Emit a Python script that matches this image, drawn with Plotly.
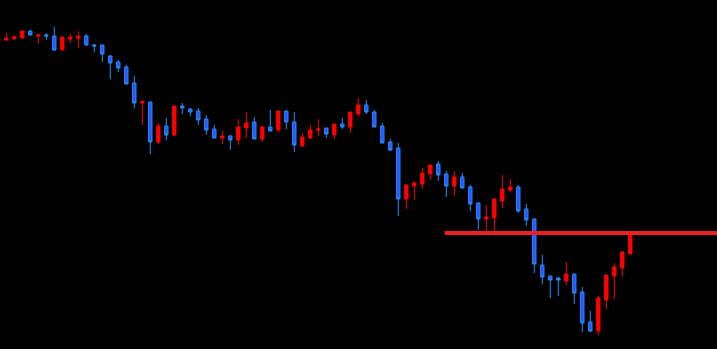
import plotly.graph_objects as go

# Bar index (one per candle); price values
bar_index = list(range(-1, 79))
open_ = [310, 310, 311, 312, 319, 314, 315, 314, 300, 311, 312, 314, 305, 305, 294, 288, 283, 267, 247, 248,
         208, 224, 215, 244, 241, 239, 231, 221, 212, 214, 210, 222, 228, 211, 223, 220, 239, 228, 204, 212,
         220, 222, 215, 226, 223, 236, 245, 238, 224, 208, 202, 151, 164, 166, 176, 186, 176, 164, 173, 163,
         147, 131, 132, 149, 160, 163, 141, 131, 85, 74, 72, 69, 76, 58, 28, 19, 50, 74, 82, 96]
high = [312, 317, 315, 319, 320, 315, 317, 323, 313, 316, 319, 316, 306, 305, 295, 290, 285, 274, 250, 248,
        227, 232, 244, 247, 242, 242, 235, 225, 219, 215, 231, 238, 233, 224, 240, 239, 239, 238, 217, 225,
        231, 222, 226, 232, 238, 252, 250, 240, 227, 211, 207, 166, 169, 182, 185, 189, 179, 179, 177, 165,
        148, 145, 152, 175, 171, 165, 146, 132, 95, 74, 73, 88, 76, 63, 39, 54, 75, 87, 99, 116]
low = [309, 309, 311, 312, 315, 306, 310, 299, 300, 307, 302, 304, 298, 288, 271, 278, 266, 242, 225, 196,
       206, 210, 214, 236, 234, 225, 215, 212, 206, 200, 205, 212, 211, 208, 219, 218, 221, 198, 204, 211,
       214, 212, 211, 221, 217, 234, 236, 223, 207, 199, 134, 141, 150, 161, 170, 169, 153, 154, 162, 139,
       120, 117, 118, 142, 158, 137, 124, 77, 66, 52, 54, 65, 46, 18, 18, 15, 41, 51, 73, 96]
close = [311, 312, 313, 319, 315, 315, 314, 300, 313, 313, 314, 305, 304, 296, 287, 282, 266, 247, 248.5, 208,
         224, 215, 244, 242, 238, 230, 220, 212, 214, 210, 223, 227, 211, 223, 219, 239, 228, 205, 213, 220,
         221, 216, 226, 223, 238, 245, 238, 223, 207, 200, 151, 165, 167, 177, 185, 175, 164, 173, 162, 146,
         131, 133, 151, 161, 163, 139, 130, 86, 73, 70, 70, 76, 57, 27, 19, 52, 75, 83, 98, 116]

# Horizontal resistance level
level_price = [117, 117]
level_bars = [54.8, 90]

fig = go.Figure()
fig.add_trace(go.Candlestick(
    x=bar_index, open=open_, high=high, low=low, close=close,
    increasing=dict(line=dict(color="#ff0000", width=1), fillcolor="#ff0000"),
    decreasing=dict(line=dict(color="#1e90ff", width=1), fillcolor="#3050ff"),
    whiskerwidth=0,
    hoverinfo="skip",
))
fig.add_trace(go.Scatter(
    x=level_bars, y=level_price, mode="lines",
    line=dict(color="#ee2026", width=4), hoverinfo="skip",
))

fig.update_layout(
    width=717, height=349,
    margin=dict(l=0, r=0, t=0, b=0),
    paper_bgcolor="#000000", plot_bgcolor="#000000",
    showlegend=False,
    boxgap=0.4,
    xaxis=dict(range=[-0.7875, 88.8375], visible=False, rangeslider=dict(visible=False),
               showgrid=False, zeroline=False),
    yaxis=dict(range=[1, 350], visible=False, showgrid=False, zeroline=False),
)

fig.write_html("out.html")
